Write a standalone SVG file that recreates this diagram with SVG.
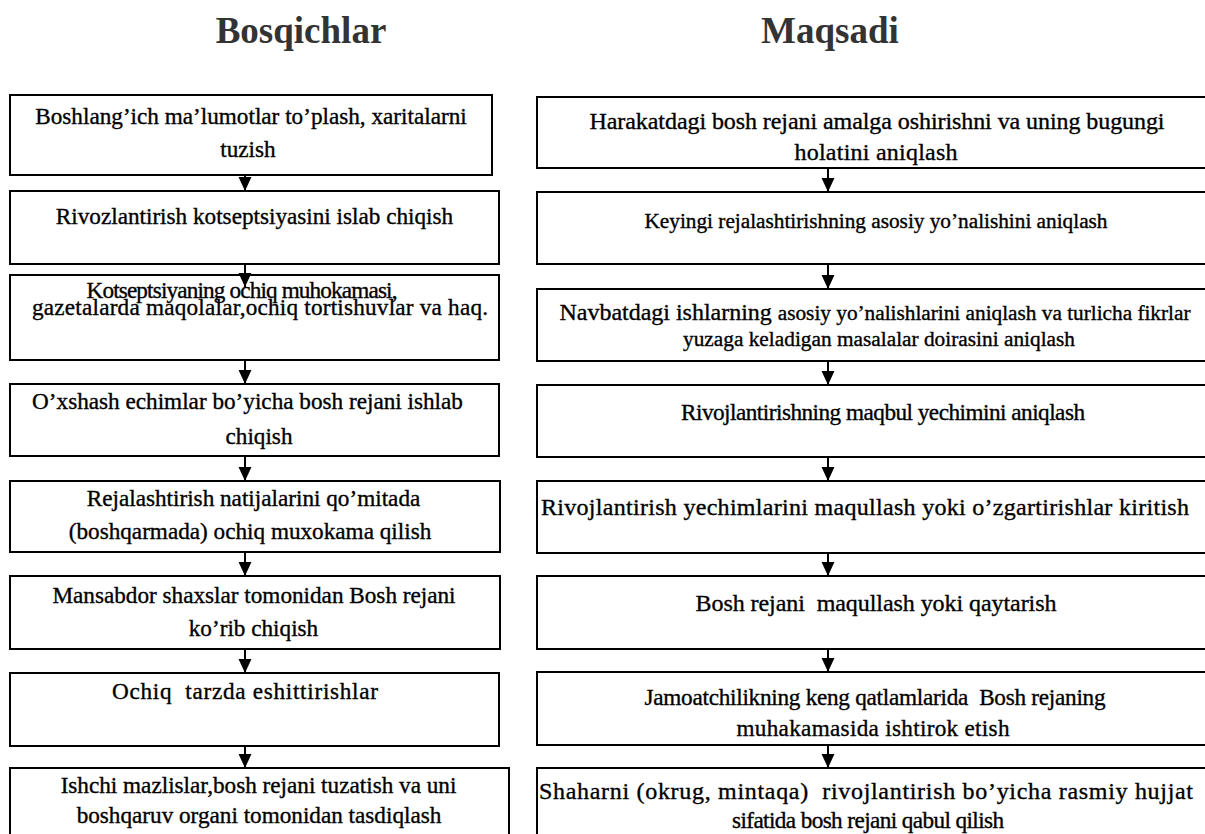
<svg xmlns="http://www.w3.org/2000/svg" width="1205" height="834" viewBox="0 0 1205 834">
<style>
.box{fill:#fff;stroke:#000;stroke-width:2}
.t{font-size:23.2px;fill:#000;stroke:#000;stroke-width:0.35;text-anchor:middle}
.r{font-size:24px}
.s{font-size:21.3px}
.title{font-size:37px;font-weight:bold;fill:#333;text-anchor:middle}
.ln{stroke:#000;stroke-width:2;fill:none}
</style>
<defs>
<marker id="ah" markerUnits="userSpaceOnUse" markerWidth="14" markerHeight="14" viewBox="0 0 13 12" refX="13" refY="6" orient="auto">
<path d="M0,0 L13,6 L0,12 Z" fill="#000"/>
</marker>
</defs>
<rect width="1205" height="834" fill="#fff"/>
<g font-family="Liberation Serif, Times New Roman, serif">
<g id="titles">
<text class="title" x="301" y="43">Bosqichlar</text>
<text class="title" x="830" y="43">Maqsadi</text>
</g>
<g id="L1"><rect class="box" x="10" y="95" width="482" height="80"/>
<text class="t" x="251" y="124">Boshlang’ich ma’lumotlar to’plash, xaritalarni</text>
<text class="t" x="248" y="157">tuzish</text></g>
<g id="L2"><rect class="box" x="10" y="191" width="489" height="73"/>
<text class="t" x="254.5" y="224">Rivozlantirish kotseptsiyasini islab chiqish</text></g>
<g id="L3"><rect class="box" x="10" y="275" width="489" height="85"/>
<text class="t" x="242" y="298" textLength="311">Kotseptsiyaning ochiq muhokamasi,</text>
<text class="t" x="260" y="315" textLength="456">gazetalarda maqolalar,ochiq tortishuvlar va haq.</text></g>
<g id="L4"><rect class="box" x="10" y="384" width="489" height="72"/>
<text class="t" x="247.5" y="409">O’xshash echimlar bo’yicha bosh rejani ishlab</text>
<text class="t" x="259" y="444">chiqish</text></g>
<g id="L5"><rect class="box" x="10" y="481" width="490" height="71"/>
<text class="t" x="253.5" y="506">Rejalashtirish natijalarini qo’mitada</text>
<text class="t" x="250" y="539">(boshqarmada) ochiq muxokama qilish</text></g>
<g id="L6"><rect class="box" x="10" y="576" width="490" height="73"/>
<text class="t" x="254" y="603">Mansabdor shaxslar tomonidan Bosh rejani</text>
<text class="t" x="253.5" y="636">ko’rib chiqish</text></g>
<g id="L7"><rect class="box" x="10" y="673" width="489" height="73"/>
<text class="t" x="245" y="699" textLength="266" xml:space="preserve">Ochiq  tarzda eshittirishlar</text></g>
<g id="L8"><rect class="box" x="10" y="768" width="499" height="80"/>
<text class="t" x="258.5" y="793">Ishchi mazlislar,bosh rejani tuzatish va uni</text>
<text class="t" x="259" y="823">boshqaruv organi tomonidan tasdiqlash</text></g>

<g id="R1"><rect class="box" x="537" y="97" width="680" height="71"/>
<text class="t r" x="877" y="129" textLength="575">Harakatdagi bosh rejani amalga oshirishni va uning bugungi</text>
<text class="t r" x="876" y="160" textLength="163">holatini aniqlash</text></g>
<g id="R2"><rect class="box" x="537" y="192" width="680" height="72"/>
<text class="t s" x="876" y="228" textLength="463">Keyingi rejalashtirishning asosiy yo’nalishini aniqlash</text></g>
<g id="R3"><rect class="box" x="537" y="289" width="680" height="72"/>
<text class="t r" x="875" y="320" textLength="631">Navbatdagi ishlarning <tspan class="s">asosiy yo’nalishlarini aniqlash va turlicha fikrlar</tspan></text>
<text class="t s" x="879" y="346" textLength="392">yuzaga keladigan masalalar doirasini aniqlash</text></g>
<g id="R4"><rect class="box" x="537" y="385" width="680" height="72"/>
<text class="t" x="883" y="420" textLength="404">Rivojlantirishning maqbul yechimini aniqlash</text></g>
<g id="R5"><rect class="box" x="537" y="481" width="680" height="72"/>
<text class="t r" x="865" y="515" textLength="648">Rivojlantirish yechimlarini maqullash yoki o’zgartirishlar kiritish</text></g>
<g id="R6"><rect class="box" x="537" y="576" width="680" height="73"/>
<text class="t r" x="876" y="611" textLength="361" xml:space="preserve">Bosh rejani  maqullash yoki qaytarish</text></g>
<g id="R7"><rect class="box" x="537" y="672" width="680" height="73"/>
<text class="t" x="875" y="705" textLength="461" xml:space="preserve">Jamoatchilikning keng qatlamlarida  Bosh rejaning</text>
<text class="t" x="873" y="736" textLength="273">muhakamasida ishtirok etish</text></g>
<g id="R8"><rect class="box" x="537" y="768" width="680" height="80"/>
<text class="t r" x="866" y="799" textLength="654" xml:space="preserve">Shaharni (okrug, mintaqa)  rivojlantirish bo’yicha rasmiy hujjat</text>
<text class="t" x="868" y="828" textLength="272">sifatida bosh rejani qabul qilish</text></g>
</g>

<g id="connectors">
<line class="ln" x1="245" y1="175" x2="245" y2="191" marker-end="url(#ah)"/>
<line class="ln" x1="245" y1="264" x2="245" y2="287" marker-end="url(#ah)"/>
<line class="ln" x1="245" y1="360" x2="245" y2="384" marker-end="url(#ah)"/>
<line class="ln" x1="245" y1="456" x2="245" y2="481" marker-end="url(#ah)"/>
<line class="ln" x1="245" y1="552" x2="245" y2="576" marker-end="url(#ah)"/>
<line class="ln" x1="245" y1="649" x2="245" y2="673" marker-end="url(#ah)"/>
<line class="ln" x1="245" y1="746" x2="245" y2="768" marker-end="url(#ah)"/>
<line class="ln" x1="828" y1="168" x2="828" y2="192" marker-end="url(#ah)"/>
<line class="ln" x1="828" y1="264" x2="828" y2="289" marker-end="url(#ah)"/>
<line class="ln" x1="828" y1="361" x2="828" y2="385" marker-end="url(#ah)"/>
<line class="ln" x1="828" y1="457" x2="828" y2="481" marker-end="url(#ah)"/>
<line class="ln" x1="828" y1="553" x2="828" y2="576" marker-end="url(#ah)"/>
<line class="ln" x1="828" y1="649" x2="828" y2="672" marker-end="url(#ah)"/>
<line class="ln" x1="828" y1="745" x2="828" y2="768" marker-end="url(#ah)"/>
</g>
</svg>
